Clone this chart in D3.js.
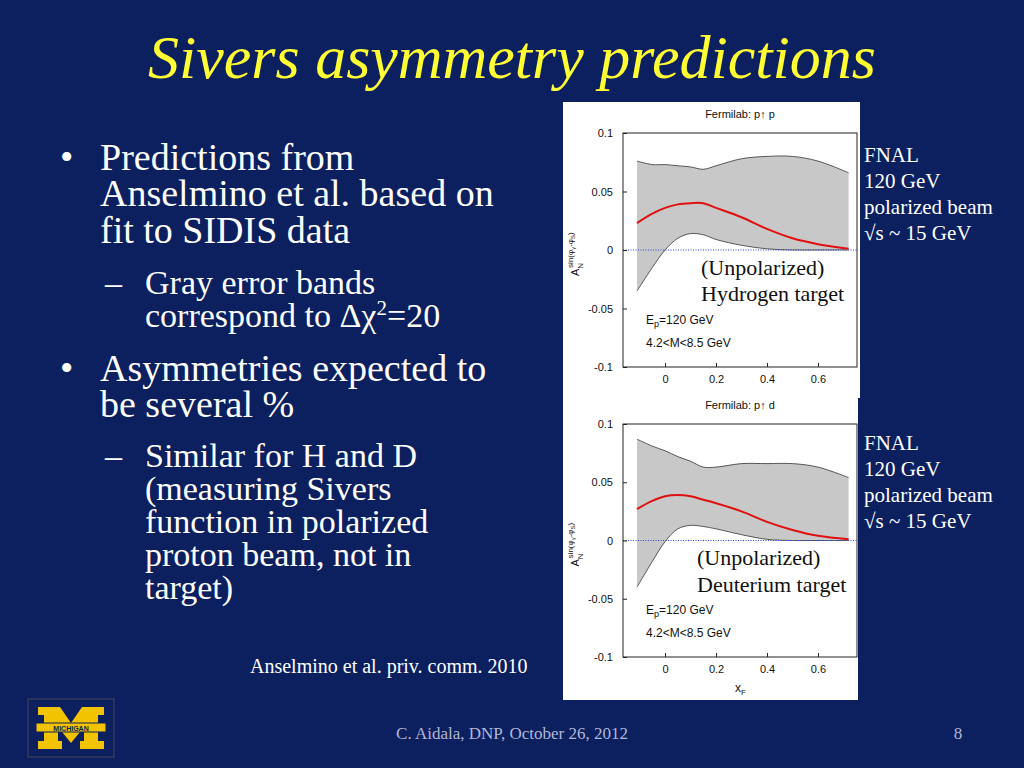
<!DOCTYPE html>
<html>
<head>
<meta charset="utf-8">
<script src="https://d3js.org/d3.v7.min.js"></script>
<style>
  body { margin: 0; background: #0c1f5e; }
  .serif { font-family: "Liberation Serif", "Times New Roman", serif; }
  .plot text { font-family: "Liberation Sans", Arial, sans-serif; }
</style>
</head>
<body>
<svg id="slide" width="1024" height="768"></svg>
<script>
// data
const xF        = [-0.11, -0.05, 0, 0.05, 0.1, 0.15, 0.2, 0.3, 0.4, 0.5, 0.6, 0.72];
const hUpper    = [0.076, 0.073, 0.073, 0.072, 0.071, 0.069, 0.072, 0.078, 0.080, 0.080, 0.076, 0.066];
const hCentral  = [0.023, 0.031, 0.036, 0.039, 0.040, 0.040, 0.036, 0.028, 0.018, 0.010, 0.005, 0.001];
const hLower    = [-0.035, -0.015, 0.0, 0.010, 0.014, 0.013, 0.009, 0.004, 0.001, 0.000, 0.000, 0.000];
const dUpper    = [0.087, 0.081, 0.077, 0.072, 0.068, 0.063, 0.063, 0.066, 0.066, 0.066, 0.063, 0.054];
const dCentral  = [0.027, 0.034, 0.038, 0.039, 0.038, 0.035, 0.032, 0.025, 0.016, 0.009, 0.004, 0.001];
const dLower    = [-0.040, -0.018, -0.001, 0.010, 0.013, 0.012, 0.010, 0.005, 0.001, 0.000, 0.000, 0.000];
const xTicks    = [0, 0.2, 0.4, 0.6];
const yTicks    = [-0.1, -0.05, 0, 0.05, 0.1];
const yTickText = ["-0.1", "-0.05", "0", "0.05", "0.1"];

const svg = d3.select("#slide");
svg.append("rect").attr("width", 1024).attr("height", 768).attr("fill", "#0c1f5e");

svg.append("text").attr("class", "serif").attr("x", 512).attr("y", 78).attr("text-anchor", "middle")
  .style("font-size", "62px").style("font-style", "italic").attr("fill", "#ffff33")
  .text("Sivers asymmetry predictions");

// bullet text
const lines = [
  {x: 60, t: "•", y: 170, s: 38}, {x: 100, t: "Predictions from", y: 170, s: 38},
  {x: 100, t: "Anselmino et al. based on", y: 206, s: 38},
  {x: 100, t: "fit to SIDIS data", y: 243, s: 38},
  {x: 105, t: "–", y: 294, s: 34}, {x: 145, t: "Gray error bands", y: 294, s: 34},
  {x: 145, t: "correspond to ΔχSUP=20", y: 327, s: 34},
  {x: 60, t: "•", y: 381, s: 38}, {x: 100, t: "Asymmetries expected to", y: 381, s: 38},
  {x: 100, t: "be several %", y: 417, s: 38},
  {x: 105, t: "–", y: 467, s: 34}, {x: 145, t: "Similar for H and D", y: 467, s: 34},
  {x: 145, t: "(measuring Sivers", y: 500, s: 34},
  {x: 145, t: "function in polarized", y: 533, s: 34},
  {x: 145, t: "proton beam, not in", y: 566, s: 34},
  {x: 145, t: "target)", y: 599, s: 34}
];
lines.forEach(l => {
  const t = svg.append("text").attr("class", "serif").attr("x", l.x).attr("y", l.y).attr("fill", "white").style("font-size", l.s + "px");
  if (l.t.includes("SUP")) {
    const [a, b] = l.t.split("SUP");
    t.append("tspan").text(a);
    t.append("tspan").attr("dy", -12).style("font-size", "21px").text("2");
    t.append("tspan").attr("dy", 12).text(b);
  } else t.text(l.t);
});
svg.append("text").attr("class", "serif").attr("x", 250).attr("y", 673).attr("fill", "white").style("font-size", "20px")
  .text("Anselmino et al. priv. comm. 2010");
svg.append("text").attr("class", "serif").attr("x", 512).attr("y", 739).attr("text-anchor", "middle").attr("fill", "#b0b8d8")
  .style("font-size", "17px").text("C. Aidala, DNP, October 26, 2012");
svg.append("text").attr("class", "serif").attr("x", 958).attr("y", 739).attr("text-anchor", "middle").attr("fill", "#b0b8d8")
  .style("font-size", "17px").text("8");

// Michigan logo
const logo = svg.append("g").attr("transform", "translate(28,699)");
logo.append("rect").attr("width", 86).attr("height", 58).attr("fill", "#0c1f5e").attr("stroke", "#445").attr("stroke-width", 1);
logo.append("path").attr("fill", "#f2c300")
  .attr("d", "M10,8 H32 L43,24 L54,8 H76 V16 H70 V42 H76 V50 H52 V42 H56 V28 L43,44 L30,28 V42 H34 V50 H10 V42 H16 V16 H10 Z");
logo.append("rect").attr("x", 8).attr("y", 24).attr("width", 70).attr("height", 9).attr("fill", "#f2c300").attr("stroke", "#0c1f5e");
logo.append("text").attr("x", 43).attr("y", 31.5).attr("text-anchor", "middle").style("font-size", "7px")
  .style("font-family", "Liberation Sans").style("font-weight", "bold").attr("fill", "#0c1f5e").text("MICHIGAN");

// side labels
function sideLabels(y0) {
  ["FNAL", "120 GeV", "polarized beam", "√s ~ 15 GeV"].forEach((t, i) =>
    svg.append("text").attr("class", "serif").attr("x", 864).attr("y", y0 + i * 26).attr("fill", "white").style("font-size", "21px").text(t));
}
sideLabels(162);
sideLabels(450);

function drawPlot(cfg) {
  const g = svg.append("g").attr("class", "plot");
  g.append("rect").attr("x", cfg.px).attr("y", cfg.py).attr("width", cfg.pw).attr("height", cfg.ph).attr("fill", "white");
  const x = d3.scaleLinear().domain([-0.165, 0.753]).range([623, 857]);
  const y = d3.scaleLinear().domain([-0.1, 0.1]).range([cfg.bottom, cfg.top]);
  const idx = d3.range(xF.length);
  const curve = d3.curveCatmullRom.alpha(0.5);
  g.append("path").attr("fill", "#c8c8c8")
    .attr("d", d3.area().curve(curve).x(i => x(xF[i])).y0(i => y(cfg.lo[i])).y1(i => y(cfg.up[i]))(idx));
  [cfg.up, cfg.lo].forEach(arr => g.append("path").attr("fill", "none").attr("stroke", "#333").attr("stroke-width", 0.8)
    .attr("d", d3.line().curve(curve).x(i => x(xF[i])).y(i => y(arr[i]))(idx)));
  g.append("line").attr("x1", x.range()[0]).attr("x2", x.range()[1]).attr("y1", y(0)).attr("y2", y(0))
    .attr("stroke", "#3344cc").attr("stroke-dasharray", "1,1.5");
  g.append("path").attr("fill", "none").attr("stroke", "#e01010").attr("stroke-width", 2)
    .attr("d", d3.line().curve(curve).x(i => x(xF[i])).y(i => y(cfg.mid[i]))(idx));
  g.append("rect").attr("x", 623).attr("y", cfg.top).attr("width", 234).attr("height", cfg.bottom - cfg.top)
    .attr("fill", "none").attr("stroke", "#222");
  const ax = g.append("g").attr("transform", `translate(0,${cfg.bottom})`)
    .call(d3.axisBottom(x).tickValues(xTicks).tickSize(-4).tickPadding(8).tickFormat(d3.format("")));
  ax.select(".domain").remove();
  const ay = g.append("g").attr("transform", "translate(623,0)")
    .call(d3.axisLeft(y).tickValues(yTicks).tickSize(-4).tickPadding(10).tickFormat((d, i) => yTickText[i]));
  ay.select(".domain").remove();
  g.selectAll(".tick text").style("font-size", "11px").attr("fill", "#111");
  g.selectAll(".tick line").attr("stroke", "#222");
  g.append("text").attr("x", 740).attr("y", cfg.top - 15).attr("text-anchor", "middle").style("font-size", "11px")
    .attr("fill", "#111").text(cfg.title);
  const yl = g.append("text").attr("transform", `translate(579,${y(0) + 26}) rotate(-90)`).style("font-size", "11px").attr("fill", "#111");
  yl.append("tspan").text("A");
  yl.append("tspan").attr("dy", 4).style("font-size", "8px").text("N");
  yl.append("tspan").attr("dy", -10).attr("dx", -5).style("font-size", "8px").text("sin(φ");
  yl.append("tspan").attr("dy", 2).style("font-size", "6px").text("γ");
  yl.append("tspan").attr("dy", -2).style("font-size", "8px").text("-φ");
  yl.append("tspan").attr("dy", 2).style("font-size", "6px").text("S");
  yl.append("tspan").attr("dy", -2).style("font-size", "8px").text(")");
  const ep = g.append("text").attr("x", 646).attr("y", y(-0.063)).style("font-size", "12px").attr("fill", "#111");
  ep.append("tspan").text("E");
  ep.append("tspan").attr("dy", 3).style("font-size", "9px").text("p");
  ep.append("tspan").attr("dy", -3).text("=120 GeV");
  g.append("text").attr("x", 646).attr("y", y(-0.083)).style("font-size", "12px").attr("fill", "#111").text("4.2<M<8.5 GeV");
  g.append("text").attr("x", cfg.lx).attr("y", y(-0.021)).style("font-size", "22px").style("font-family", "Liberation Serif")
    .attr("fill", "#111").text("(Unpolarized)");
  g.append("text").attr("x", cfg.lx).attr("y", y(-0.044)).style("font-size", "22px").style("font-family", "Liberation Serif")
    .attr("fill", "#111").text(cfg.target);
  if (cfg.xlabel) {
    const xl = g.append("text").attr("x", 735).attr("y", 692).style("font-size", "12px").attr("fill", "#111");
    xl.append("tspan").text("x");
    xl.append("tspan").attr("dy", 3).style("font-size", "8px").text("F");
  }
}

drawPlot({px: 563, py: 102, pw: 297, ph: 296, top: 133, bottom: 367, up: hUpper, mid: hCentral, lo: hLower,
  title: "Fermilab: p↑ p", target: "Hydrogen target", lx: 701});
drawPlot({px: 563, py: 398, pw: 295, ph: 302, top: 424, bottom: 657, up: dUpper, mid: dCentral, lo: dLower,
  title: "Fermilab: p↑ d", target: "Deuterium target", lx: 697, xlabel: true});
</script>
</body>
</html>
